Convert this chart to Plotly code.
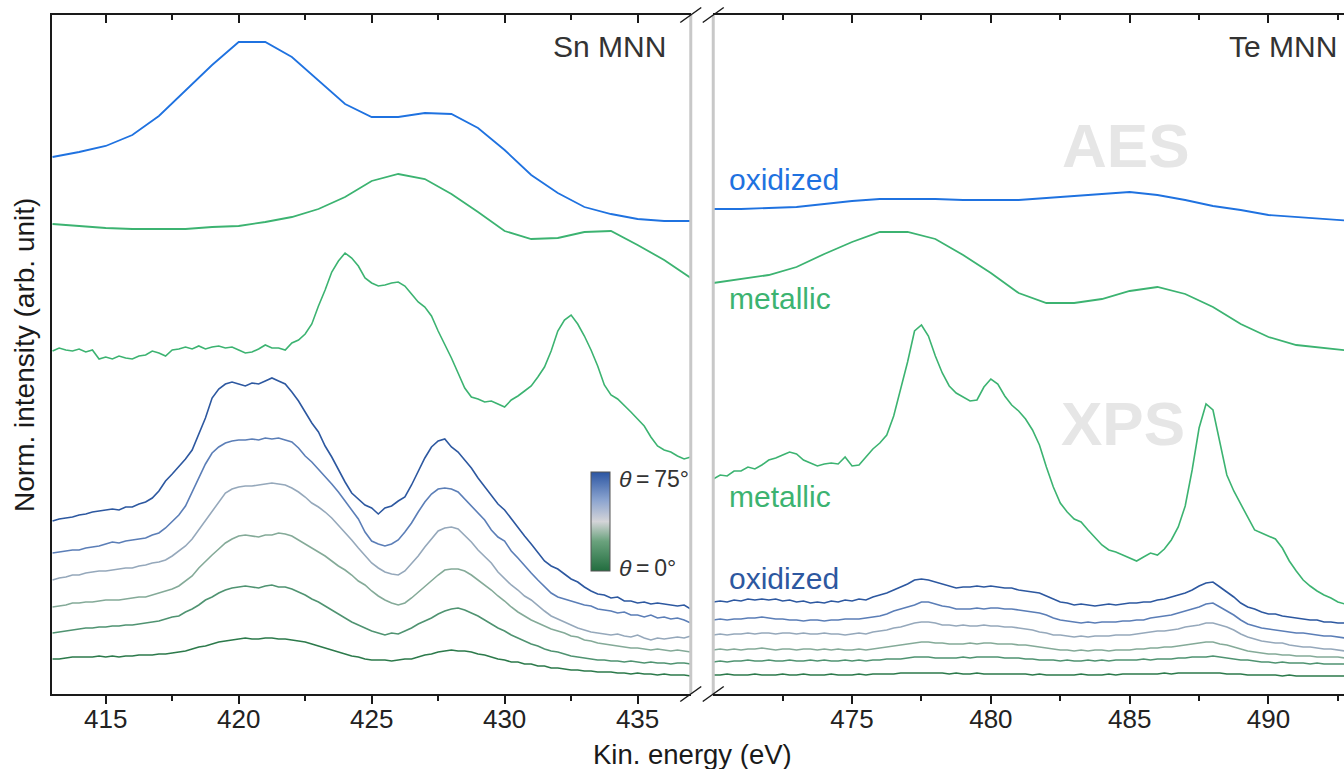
import plotly.graph_objects as go

FONT = "Liberation Sans, Arial, sans-serif"

# ---------------- data ----------------
STEP = 0.25          # eV step of the XPS spectra
SN_START = 413.0     # first energy of the Sn XPS spectra
TE_START = 470.0     # first energy of the Te XPS spectra

SN_AES_ENERGY = [413, 414, 415, 416, 417, 418, 419, 420, 421, 422, 423, 424, 425,
                 426, 427, 428, 429, 430, 431, 432, 433, 434, 435, 436, 437]
SN_AES_OXIDIZED = [537, 542, 548, 559, 578, 603, 629, 652, 652, 637, 614, 590, 577,
                   577, 581, 580, 566, 544, 519, 501, 487, 480, 475, 473, 473]
SN_AES_METALLIC = [470, 468, 466, 465, 465, 465, 467, 468, 472, 477, 485, 497, 513,
                   520, 515, 500, 482, 463, 455, 456, 462, 463, 449, 434, 416]

SN_XPS_METALLIC = [
    343, 346, 344, 343, 345, 342, 344, 335, 337, 335,
    338, 336, 335, 338, 339, 343, 341, 338, 344, 345,
    347, 345, 348, 345, 347, 348, 346, 347, 344, 341,
    342, 345, 349, 346, 346, 344, 351, 354, 360, 370,
    388, 404, 422, 433, 441, 436, 428, 416, 411, 408,
    409, 411, 412, 408, 400, 392, 387, 378, 363, 350,
    336, 321, 306, 297, 295, 292, 293, 290, 287, 294,
    298, 303, 308, 317, 327, 343, 363, 374, 379, 370,
    358, 344, 328, 309, 299, 295, 289, 282, 275, 268,
    257, 248, 244, 242, 238, 235, 237]

SN_XPS_T75 = [
    173, 175, 176, 177, 179, 180, 182, 183, 184, 185,
    184, 187, 187, 190, 192, 196, 203, 213, 220, 227,
    235, 244, 260, 276, 296, 305, 310, 312, 310, 308,
    311, 310, 313, 316, 313, 310, 302, 293, 282, 271,
    262, 248, 237, 224, 212, 201, 195, 189, 186, 180,
    186, 188, 193, 197, 209, 223, 236, 247, 253, 255,
    247, 242, 234, 226, 216, 207, 198, 190, 184, 175,
    166, 158, 150, 141, 133, 128, 125, 120, 115, 112,
    107, 103, 100, 99, 96, 97, 93, 93, 91, 92,
    90, 91, 90, 89, 88, 89, 85]

SN_XPS_T60 = [
    141, 142, 143, 144, 144, 146, 147, 148, 150, 152,
    151, 153, 154, 155, 156, 159, 161, 166, 172, 179,
    188, 202, 216, 230, 241, 247, 251, 253, 254, 254,
    255, 254, 256, 255, 256, 254, 252, 246, 238, 232,
    225, 218, 210, 202, 193, 185, 175, 162, 153, 150,
    148, 150, 154, 162, 171, 182, 192, 200, 205, 206,
    205, 202, 195, 189, 181, 174, 164, 157, 153, 143,
    136, 128, 121, 114, 108, 101, 97, 95, 93, 91,
    89, 88, 85, 84, 83, 81, 82, 79, 79, 77,
    79, 76, 77, 75, 76, 74, 71]

SN_XPS_T45 = [
    114, 116, 117, 119, 119, 121, 122, 123, 123, 124,
    125, 126, 126, 128, 129, 131, 132, 134, 138, 143,
    148, 155, 164, 173, 182, 192, 201, 205, 207, 208,
    208, 209, 210, 211, 210, 209, 206, 202, 197, 191,
    187, 182, 176, 169, 162, 154, 146, 138, 131, 126,
    122, 120, 119, 123, 130, 138, 147, 155, 163, 166,
    167, 165, 159, 152, 144, 138, 131, 122, 115, 109,
    104, 98, 94, 88, 83, 78, 75, 72, 69, 66,
    64, 62, 61, 60, 59, 60, 58, 57, 59, 56,
    54, 56, 55, 56, 57, 56, 58]

SN_XPS_T30 = [
    87, 88, 89, 91, 91, 92, 92, 93, 94, 94,
    94, 95, 96, 97, 97, 99, 101, 103, 105, 108,
    113, 118, 126, 133, 139, 145, 151, 155, 158, 159,
    158, 157, 159, 159, 161, 160, 158, 154, 150, 146,
    142, 138, 133, 128, 124, 119, 113, 109, 103, 98,
    94, 91, 89, 91, 96, 102, 108, 114, 119, 124,
    125, 125, 123, 119, 114, 109, 104, 98, 93, 87,
    82, 78, 74, 71, 68, 65, 63, 61, 58, 57,
    54, 53, 51, 50, 49, 48, 47, 46, 46, 45,
    44, 45, 44, 43, 44, 43, 42]

SN_XPS_T15 = [
    61, 62, 63, 64, 65, 66, 66, 67, 67, 68,
    68, 69, 69, 70, 71, 72, 73, 75, 77, 78,
    82, 85, 89, 94, 97, 101, 104, 106, 107, 108,
    107, 106, 108, 109, 107, 107, 105, 102, 99, 95,
    92, 88, 84, 80, 76, 72, 69, 66, 63, 61,
    59, 61, 60, 63, 66, 70, 73, 76, 80, 83,
    85, 86, 84, 81, 78, 74, 70, 66, 63, 59,
    56, 53, 50, 48, 45, 43, 42, 40, 38, 37,
    36, 35, 34, 34, 33, 33, 32, 33, 32, 31,
    32, 31, 31, 30, 31, 31, 30]

SN_XPS_T0 = [
    35, 35, 36, 37, 37, 37, 37, 38, 37, 38,
    37, 38, 38, 39, 39, 39, 40, 40, 41, 42,
    43, 45, 47, 48, 50, 52, 53, 54, 55, 56,
    55, 55, 56, 56, 55, 55, 54, 53, 52, 50,
    48, 46, 44, 42, 40, 38, 37, 35, 34, 34,
    34, 33, 34, 35, 35, 37, 39, 40, 42, 43,
    44, 43, 43, 42, 40, 39, 37, 35, 34, 32,
    32, 30, 30, 28, 28, 26, 26, 25, 24, 24,
    23, 23, 22, 22, 22, 21, 21, 20, 21, 20,
    20, 19, 20, 19, 19, 19, 18]

TE_AES_ENERGY = [470, 471, 472, 473, 474, 475, 476, 477, 478, 479, 480, 481,
                 482, 483, 484, 485, 486, 487, 488, 489, 490, 491, 492, 493]
TE_AES_OXIDIZED = [485, 485, 486, 487, 490, 493, 495, 495, 495, 494, 494, 494,
                   496, 498, 500, 502, 499, 494, 488, 484, 479, 477, 475, 473]
TE_AES_METALLIC = [411, 415, 419, 427, 440, 452, 462, 462, 455, 439, 421, 401,
                   391, 391, 395, 403, 407, 400, 387, 370, 357, 349, 346, 343]

TE_XPS_METALLIC = [
    215, 219, 218, 223, 223, 227, 225, 229, 234, 236,
    239, 242, 240, 234, 231, 228, 230, 231, 230, 237,
    228, 229, 237, 245, 251, 259, 278, 304, 332, 363,
    369, 358, 338, 321, 308, 301, 297, 293, 294, 307,
    315, 310, 298, 289, 283, 275, 264, 249, 227, 207,
    191, 182, 175, 172, 164, 156, 149, 144, 142, 139,
    136, 133, 137, 141, 139, 145, 154, 167, 188, 224,
    266, 290, 284, 253, 219, 203, 190, 176, 164, 161,
    158, 155, 146, 133, 123, 114, 108, 103, 99, 96,
    92, 90]

TE_XPS_T75 = [
    92, 93, 92, 94, 93, 95, 94, 95, 94, 95,
    93, 94, 92, 93, 91, 92, 91, 93, 92, 94,
    93, 95, 94, 97, 99, 101, 104, 107, 110, 114,
    115, 114, 112, 110, 108, 106, 107, 107, 108, 107,
    108, 107, 106, 106, 104, 103, 102, 101, 98, 95,
    92, 91, 89, 90, 89, 88, 89, 90, 89, 90,
    91, 91, 92, 92, 94, 95, 97, 99, 101, 104,
    108, 111, 112, 107, 102, 97, 91, 87, 85, 82,
    80, 80, 78, 77, 76, 75, 74, 74, 72, 72,
    71, 71]

TE_XPS_T60 = [
    74, 75, 74, 75, 75, 76, 76, 77, 76, 75,
    75, 74, 74, 73, 74, 74, 73, 74, 74, 75,
    75, 75, 76, 77, 78, 80, 83, 85, 87, 89,
    92, 92, 90, 88, 87, 85, 85, 85, 86, 85,
    86, 86, 85, 85, 84, 83, 82, 81, 79, 76,
    74, 73, 72, 71, 72, 71, 72, 72, 72, 73,
    73, 74, 74, 76, 77, 78, 79, 81, 83, 85,
    87, 90, 91, 87, 83, 79, 74, 70, 68, 66,
    65, 64, 63, 62, 61, 61, 60, 59, 58, 58,
    57, 56]

TE_XPS_T45 = [
    59, 60, 59, 60, 60, 61, 60, 61, 61, 60,
    61, 61, 60, 61, 60, 60, 61, 60, 60, 59,
    60, 61, 60, 62, 63, 64, 66, 67, 69, 71,
    72, 72, 71, 69, 69, 68, 69, 68, 68, 69,
    68, 68, 67, 67, 66, 65, 64, 62, 61, 59,
    59, 58, 57, 58, 57, 58, 58, 58, 59, 59,
    59, 60, 61, 62, 63, 63, 64, 65, 67, 68,
    69, 71, 71, 69, 67, 64, 60, 57, 55, 53,
    52, 51, 51, 49, 48, 47, 47, 46, 45, 45,
    44, 43]

TE_XPS_T30 = [
    44, 45, 44, 45, 44, 45, 45, 46, 45, 44,
    45, 45, 44, 45, 45, 44, 45, 44, 45, 44,
    44, 45, 44, 45, 46, 47, 48, 49, 50, 51,
    52, 52, 51, 51, 50, 50, 50, 51, 50, 51,
    51, 50, 50, 50, 49, 49, 48, 47, 46, 45,
    44, 44, 43, 44, 43, 44, 44, 43, 44, 44,
    44, 45, 45, 46, 46, 47, 47, 48, 49, 50,
    51, 52, 52, 50, 49, 47, 45, 43, 42, 41,
    40, 40, 39, 39, 38, 38, 38, 37, 37, 37,
    37, 36]

TE_XPS_T15 = [
    32, 33, 32, 33, 33, 34, 33, 33, 34, 33,
    33, 34, 33, 33, 34, 33, 34, 33, 33, 34,
    33, 34, 33, 34, 34, 35, 35, 35, 36, 37,
    37, 37, 36, 36, 36, 36, 37, 36, 37, 37,
    37, 37, 36, 36, 36, 35, 35, 34, 34, 34,
    33, 34, 33, 33, 34, 33, 34, 33, 34, 34,
    34, 34, 35, 34, 35, 35, 35, 36, 36, 37,
    37, 37, 38, 37, 36, 35, 34, 34, 33, 32,
    32, 31, 32, 31, 31, 31, 30, 31, 30, 30,
    30, 30]

TE_XPS_T0 = [
    19, 19, 20, 19, 19, 19, 20, 19, 19, 19,
    20, 19, 19, 20, 19, 19, 19, 20, 19, 19,
    19, 20, 19, 20, 20, 20, 20, 21, 21, 21,
    21, 21, 21, 21, 20, 21, 20, 20, 21, 20,
    20, 20, 20, 20, 20, 20, 19, 20, 19, 19,
    19, 19, 19, 20, 19, 19, 19, 20, 19, 20,
    20, 20, 20, 20, 20, 21, 20, 21, 21, 21,
    21, 21, 21, 21, 20, 20, 20, 19, 19, 19,
    19, 19, 18, 19, 18, 18, 18, 18, 18, 18,
    18, 18]

ANGLES = [0, 15, 30, 45, 60, 75]
SN_XPS_SERIES = [SN_XPS_T0, SN_XPS_T15, SN_XPS_T30, SN_XPS_T45, SN_XPS_T60, SN_XPS_T75]
TE_XPS_SERIES = [TE_XPS_T0, TE_XPS_T15, TE_XPS_T30, TE_XPS_T45, TE_XPS_T60, TE_XPS_T75]

SN_MAJOR = [415, 420, 425, 430, 435]
SN_MINOR = [417.5, 422.5, 427.5, 432.5]
TE_MAJOR = [475, 480, 485, 490]
TE_MINOR = [472.5, 477.5, 482.5, 487.5, 492.5]

# ---------------- styles ----------------
C_AES_OX = "#1f72e0"
C_MET = "#3cb371"
ANGLE_COLORS = ["#2c7a4b", "#4f9371", "#84aa98", "#95a8bb", "#5b7eb7", "#2d58a0"]
ANGLE_SCALE = [[0.0, "#226d3f"], [0.3, "#6aa27d"], [0.5, "#d4d4d8"],
               [0.72, "#8aa3cf"], [1.0, "#2b55a2"]]
C_FRAME = "#1a1a1a"
C_BREAK = "#c8c8c8"


def grid(start, n):
    return [start + STEP * i for i in range(n)]


fig = go.Figure()

# Sn panel (x / y)
for ang, ys, col in zip(ANGLES, SN_XPS_SERIES, ANGLE_COLORS):
    fig.add_trace(go.Scatter(x=grid(SN_START, len(ys)), y=ys, mode="lines",
                             line=dict(color=col, width=1.6), xaxis="x", yaxis="y",
                             name=f"Sn {ang}", showlegend=False, hoverinfo="skip"))
fig.add_trace(go.Scatter(x=grid(SN_START, len(SN_XPS_METALLIC)), y=SN_XPS_METALLIC,
                         mode="lines", line=dict(color=C_MET, width=1.6),
                         xaxis="x", yaxis="y", showlegend=False, hoverinfo="skip"))
fig.add_trace(go.Scatter(x=SN_AES_ENERGY, y=SN_AES_METALLIC, mode="lines",
                         line=dict(color=C_MET, width=1.8), xaxis="x", yaxis="y",
                         showlegend=False, hoverinfo="skip"))
fig.add_trace(go.Scatter(x=SN_AES_ENERGY, y=SN_AES_OXIDIZED, mode="lines",
                         line=dict(color=C_AES_OX, width=1.8), xaxis="x", yaxis="y",
                         showlegend=False, hoverinfo="skip"))

# Te panel (x2 / y)
for ang, ys, col in zip(ANGLES, TE_XPS_SERIES, ANGLE_COLORS):
    fig.add_trace(go.Scatter(x=grid(TE_START, len(ys)), y=ys, mode="lines",
                             line=dict(color=col, width=1.6), xaxis="x2", yaxis="y",
                             name=f"Te {ang}", showlegend=False, hoverinfo="skip"))
fig.add_trace(go.Scatter(x=grid(TE_START, len(TE_XPS_METALLIC)), y=TE_XPS_METALLIC,
                         mode="lines", line=dict(color=C_MET, width=1.6),
                         xaxis="x2", yaxis="y", showlegend=False, hoverinfo="skip"))
fig.add_trace(go.Scatter(x=TE_AES_ENERGY, y=TE_AES_METALLIC, mode="lines",
                         line=dict(color=C_MET, width=1.8), xaxis="x2", yaxis="y",
                         showlegend=False, hoverinfo="skip"))
fig.add_trace(go.Scatter(x=TE_AES_ENERGY, y=TE_AES_OXIDIZED, mode="lines",
                         line=dict(color=C_AES_OX, width=1.8), xaxis="x2", yaxis="y",
                         showlegend=False, hoverinfo="skip"))

# empty traces so the top (mirror) axes get drawn
fig.add_trace(go.Scatter(x=[], y=[], xaxis="x3", yaxis="y", showlegend=False, hoverinfo="skip"))
fig.add_trace(go.Scatter(x=[], y=[], xaxis="x4", yaxis="y", showlegend=False, hoverinfo="skip"))

# angle colour bar
fig.add_trace(go.Scatter(
    x=[None] * len(ANGLES), y=[None] * len(ANGLES), mode="markers", xaxis="x", yaxis="y",
    showlegend=False, hoverinfo="skip",
    marker=dict(color=ANGLES, colorscale=ANGLE_SCALE, cmin=0, cmax=75, showscale=True,
                colorbar=dict(x=0.4169, xanchor="left", y=0.2545, yanchor="middle",
                              lenmode="pixels", len=99, thicknessmode="pixels",
                              thickness=19, xpad=0, ypad=0, outlinewidth=1,
                              outlinecolor="#555555", showticklabels=False, ticks=""))))

SN_RANGE = [412.98, 437.0]
TE_RANGE = [470.0, 492.72]
D1 = 0.4944
D2 = 0.5118

bottom_axis = dict(showline=True, linecolor=C_FRAME, linewidth=1.8, ticks="outside",
                   ticklen=8, tickwidth=1.5, tickcolor=C_FRAME, showgrid=False,
                   zeroline=False, tickmode="array", ticklabelstandoff=-7,
                   tickfont=dict(family=FONT, size=26, color="#222222"))
top_axis = dict(showline=True, linecolor=C_FRAME, linewidth=1.8, ticks="inside",
                ticklen=8, tickwidth=1.5, tickcolor=C_FRAME, showgrid=False,
                zeroline=False, tickmode="array", showticklabels=False, side="top")

fig.update_layout(
    width=1344, height=769,
    margin=dict(l=52, r=0, t=15, b=75),
    paper_bgcolor="white", plot_bgcolor="white",
    font=dict(family=FONT, color="#222222"),
    showlegend=False,
    xaxis=dict(domain=[0, D1], range=SN_RANGE, anchor="y", tickvals=SN_MAJOR,
               minor=dict(tickmode="array", tickvals=SN_MINOR, ticks="outside",
                          ticklen=5, tickwidth=1.5, tickcolor=C_FRAME),
               **bottom_axis),
    xaxis2=dict(domain=[D2, 1], range=TE_RANGE, anchor="y", tickvals=TE_MAJOR,
                minor=dict(tickmode="array", tickvals=TE_MINOR, ticks="outside",
                           ticklen=5, tickwidth=1.5, tickcolor=C_FRAME),
                **bottom_axis),
    xaxis3=dict(overlaying="x", range=SN_RANGE, anchor="y", tickvals=SN_MAJOR,
                minor=dict(tickmode="array", tickvals=SN_MINOR, ticks="inside",
                           ticklen=5, tickwidth=1.5, tickcolor=C_FRAME),
                **top_axis),
    xaxis4=dict(overlaying="x2", range=TE_RANGE, anchor="y", tickvals=TE_MAJOR,
                minor=dict(tickmode="array", tickvals=TE_MINOR, ticks="inside",
                           ticklen=5, tickwidth=1.5, tickcolor=C_FRAME),
                **top_axis),
    yaxis=dict(domain=[0, 1], range=[0, 679], anchor="x", showline=True,
               linecolor=C_FRAME, linewidth=1.8, ticks="", showticklabels=False,
               showgrid=False, zeroline=False),
)

# axis break: grey edges and slanted marks
shapes = [
    dict(type="line", xref="x domain", yref="y domain", x0=1, x1=1, y0=0, y1=1,
         line=dict(color=C_BREAK, width=3), layer="above"),
    dict(type="line", xref="x2 domain", yref="y domain", x0=0, x1=0, y0=0, y1=1,
         line=dict(color=C_BREAK, width=3), layer="above"),
]
for xr, xa in (("x domain", 1), ("x2 domain", 0)):
    for ya in (0, 1):
        shapes.append(dict(type="line", xref=xr, yref="y domain",
                           xsizemode="pixel", xanchor=xa, x0=-10.5, x1=10.5,
                           ysizemode="pixel", yanchor=ya, y0=-7.5, y1=7.5,
                           line=dict(color=C_FRAME, width=1.5), layer="above"))
fig.update_layout(shapes=shapes)


def label(text, x, y, size, color, xanchor="left", bold=False, angle=0):
    return dict(text=f"<b>{text}</b>" if bold else text, x=x, y=y, xref="paper",
                yref="paper", xanchor=xanchor, yanchor="middle", showarrow=False,
                textangle=angle, font=dict(family=FONT, size=size, color=color))


annotations = [
    label("Sn MNN", 0.4766, 0.953, 30, "#333333", xanchor="right"),
    label("Te MNN", 0.9961, 0.953, 30, "#333333", xanchor="right"),
    label("AES", 0.8305, 0.808, 62, "#e6e6e6", xanchor="center", bold=True),
    label("XPS", 0.8289, 0.399, 62, "#e6e6e6", xanchor="center", bold=True),
    label("oxidized", 0.5221, 0.757, 30, C_AES_OX),
    label("metallic", 0.5221, 0.583, 30, C_MET),
    label("metallic", 0.5221, 0.2916, 30, C_MET),
    label("oxidized", 0.5221, 0.1708, 30, ANGLE_COLORS[-1]),
    label("<i>θ</i>\u2009=\u200975°", 0.4371, 0.3166, 23, "#333333"),
    label("<i>θ</i>\u2009=\u20090°", 0.4371, 0.1863, 23, "#333333"),
    label("Kin. energy (eV)", 0.4954, -0.0884, 27.5, "#1a1a1a", xanchor="center"),
    label("Norm. intensity (arb. unit)", -0.0209, 0.4993, 28, "#1a1a1a",
          xanchor="center", angle=-90),
]
fig.update_layout(annotations=annotations)

# the page's default body margin would shift the fixed-size figure; remove it
fig.write_html("out.html",
               config={"displayModeBar": False},
               post_script="document.body.style.margin='0';"
                           "document.body.style.overflow='hidden';")
